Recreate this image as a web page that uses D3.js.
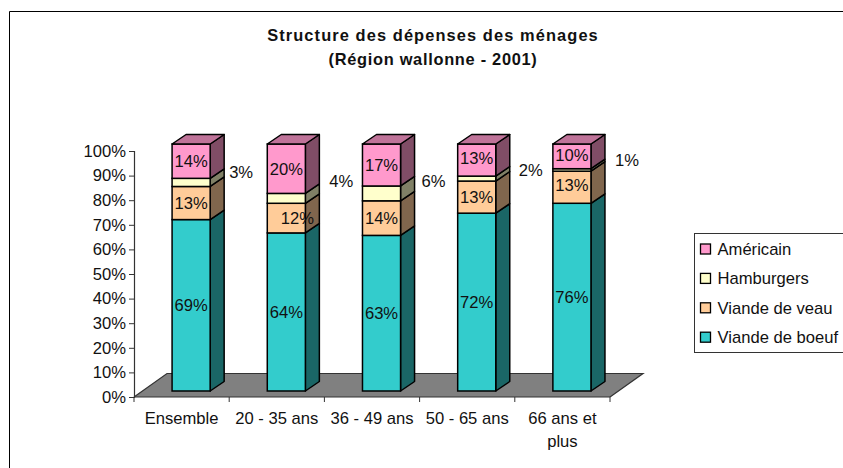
<!DOCTYPE html>
<html>
  <head>
    <meta charset="utf-8">
    <title>Structure des dépenses des ménages</title>
    <style>
      html, body { margin: 0; padding: 0; background: #fff; overflow: hidden; }
      text { font-family: "Liberation Sans", Arial, sans-serif; fill: #111; }
    </style>
    <script src="https://d3js.org/d3.v7.min.js"></script>
  </head>
  <body>
    <script>
      var categories = ["Ensemble", "20 - 35 ans", "36 - 49 ans", "50 - 65 ans", "66 ans et plus"];
      var boeuf = [69.4, 64, 63, 72, 76];
      var veau = [13.4, 12, 14, 13, 13];
      var hamburgers = [3.3, 4, 6, 2, 1];
      var americain = [13.9, 20, 17, 13, 10];
      var seriesNames = ["Viande de boeuf", "Viande de veau", "Hamburgers", "Américain"];
      var yTicks = [0, 0.1, 0.2, 0.3, 0.4, 0.5, 0.6, 0.7, 0.8, 0.9, 1];

      var width = 843, height = 468;
      var fontSize = "16.6px";

      // front, side and top colours per series
      var colours = [
        { front: "#33cccc", side: "#1a6666", top: "#26999a" },
        { front: "#ffcc99", side: "#80664d", top: "#bf9973" },
        { front: "#ffffcc", side: "#808066", top: "#bfbf99" },
        { front: "#ff99cc", side: "#804d66", top: "#bf7399" }
      ];

      // depth of the 3d effect
      var depthX = 14, depthY = -9.5;

      // rows for the stack
      var rows = categories.map(function(c, i) {
        return { category: c, 0: boeuf[i], 1: veau[i], 2: hamburgers[i], 3: americain[i] };
      });
      var stacked = d3.stack()
        .keys([0, 1, 2, 3])
        .offset(d3.stackOffsetExpand)(rows);

      var svg = d3.select("body").append("svg")
        .attr("width", width)
        .attr("height", height);

      // frame, only top and left show in the picture
      svg.append("path")
        .attr("d", "M9.5,468V11.5H843")
        .attr("fill", "none")
        .attr("stroke", "#000")
        .attr("stroke-width", 1);

      // title
      svg.append("text")
        .attr("x", 433).attr("y", 41)
        .attr("text-anchor", "middle")
        .style("font-size", "16.4px").style("font-weight", "bold").style("letter-spacing", "1.1px")
        .text("Structure des dépenses des ménages");
      svg.append("text")
        .attr("x", 433).attr("y", 65)
        .attr("text-anchor", "middle")
        .style("font-size", "16.4px").style("font-weight", "bold").style("letter-spacing", "0.7px")
        .text("(Région wallonne - 2001)");

      // scales
      var x = d3.scaleBand().domain(categories).range([134, 610]);
      var yAxisScale = d3.scaleLinear().domain([0, 1]).range([397, 151]);
      var y = d3.scaleLinear().domain([0, 1]).range([391, 144]);
      var barWidth = x.bandwidth() * 0.4;
      var barX = function(c) { return x(c) + x.bandwidth() * 0.4; };

      // floor
      var floorFront = yAxisScale(0), floorBack = 373.5;
      svg.append("path")
        .attr("d", "M134," + floorFront + "L167," + floorBack + "H643L610," + floorFront + "Z")
        .attr("fill", "#808080")
        .attr("stroke", "none");
      svg.append("path")
        .attr("d", "M134," + floorFront + "L167," + floorBack + "H643L610," + floorFront)
        .attr("fill", "none")
        .attr("stroke", "#333")
        .attr("stroke-width", 1.2);

      // axes
      var yAxis = svg.append("g")
        .attr("transform", "translate(134,0)")
        .call(d3.axisLeft(yAxisScale).tickValues(yTicks).tickFormat(d3.format(".0%")).tickSize(5).tickPadding(3));
      var xAxis = svg.append("g")
        .attr("transform", "translate(0," + floorFront + ")")
        .call(d3.axisBottom(x).tickSize(0).tickFormat(""));
      xAxis.selectAll(".tick").remove();
      xAxis.select(".domain").attr("d", "M134,0H610");
      // ticks on the band edges, not the centres
      xAxis.selectAll("line.edge")
        .data(categories.concat(["end"]))
        .enter().append("line")
          .attr("class", "edge")
          .attr("x1", function(d, i) { return 134 + i * x.bandwidth(); })
          .attr("x2", function(d, i) { return 134 + i * x.bandwidth(); })
          .attr("y1", 0).attr("y2", 5)
          .attr("stroke", "#333");
      svg.selectAll(".domain").attr("stroke", "#333").attr("stroke-width", 1.2);
      yAxis.selectAll(".tick line").attr("stroke", "#333");
      yAxis.selectAll("text").style("font-size", fontSize).style("font-family", "'Liberation Sans'").attr("fill", "#111");

      // category labels, wrapped in two lines for the last one
      var catLabels = [["Ensemble"], ["20 - 35 ans"], ["36 - 49 ans"], ["50 - 65 ans"], ["66 ans et", "plus"]];
      categories.forEach(function(c, i) {
        catLabels[i].forEach(function(line, j) {
          svg.append("text")
            .attr("x", x(c) + x.bandwidth() / 2)
            .attr("y", 424 + j * 23)
            .attr("text-anchor", "middle")
            .style("font-size", fontSize)
            .text(line);
        });
      });

      // bars, left to right then bottom to top
      categories.forEach(function(c, i) {
        var g = svg.append("g");
        var x0 = barX(c);
        stacked.forEach(function(layer, s) {
          var yBottom = y(layer[i][0]), yTop = y(layer[i][1]);
          g.append("path")
            .attr("d", "M" + (x0 + barWidth) + "," + yBottom +
              "l" + depthX + "," + depthY +
              "V" + (yTop + depthY) +
              "l" + (-depthX) + "," + (-depthY) + "Z")
            .attr("fill", colours[s].side)
            .attr("stroke", "#000").attr("stroke-width", 1.5).attr("stroke-linejoin", "round");
          g.append("rect")
            .attr("x", x0).attr("y", yTop)
            .attr("width", barWidth).attr("height", yBottom - yTop)
            .attr("fill", colours[s].front)
            .attr("stroke", "#000").attr("stroke-width", 1.5);
          if (s === stacked.length - 1) {
            g.append("path")
              .attr("d", "M" + x0 + "," + yTop +
                "l" + depthX + "," + depthY +
                "h" + barWidth +
                "l" + (-depthX) + "," + (-depthY) + "Z")
              .attr("fill", colours[s].top)
              .attr("stroke", "#000").attr("stroke-width", 1.5).attr("stroke-linejoin", "round");
          }
        });
      });

      // value labels, hand nudged like the original chart
      var nudge = {
        "1-1": [11, 0], "4-1": [0, -2], "3-3": [0, -2], "4-3": [0, -1],
        "0-2": [50, -10], "1-2": [55, -17], "2-2": [52, -12], "3-2": [54, -8], "4-2": [55, -10]
      };
      stacked.forEach(function(layer, s) {
        layer.forEach(function(d, i) {
          var n = nudge[i + "-" + s] || [0, 0];
          svg.append("text")
            .attr("x", barX(categories[i]) + barWidth / 2 + n[0])
            .attr("y", (y(d[0]) + y(d[1])) / 2 + n[1])
            .attr("dy", "0.35em")
            .attr("text-anchor", "middle")
            .style("font-size", fontSize)
            .text(Math.round(d.data[s]) + "%");
        });
      });

      // legend, clipped by the right edge as in the picture
      var legend = svg.append("g").attr("transform", "translate(694.5,233.5)");
      legend.append("rect")
        .attr("width", 160).attr("height", 119)
        .attr("fill", "#fff")
        .attr("stroke", "#333");
      seriesNames.slice().reverse().forEach(function(name, i) {
        var row = legend.append("g").attr("transform", "translate(6," + (10.5 + i * 29.4) + ")");
        row.append("rect")
          .attr("width", 10).attr("height", 10)
          .attr("fill", colours[3 - i].front)
          .attr("stroke", "#000").attr("stroke-width", 1.3);
        row.append("text")
          .attr("x", 17).attr("y", 5)
          .attr("dy", "0.35em")
          .style("font-size", fontSize)
          .text(name);
      });
    </script>
  </body>
</html>
